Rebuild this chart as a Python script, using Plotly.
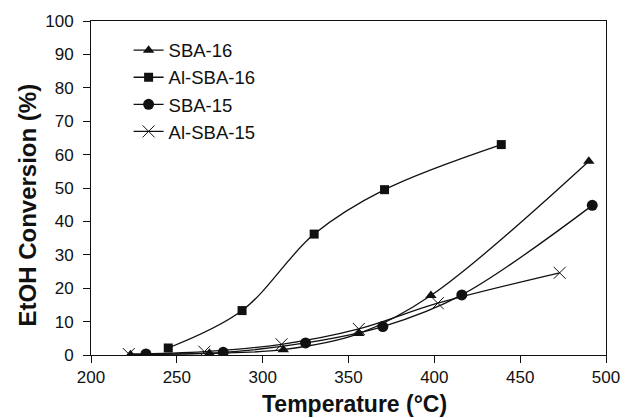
import plotly.graph_objects as go

# Data
temps_sba16 = [223, 269, 312, 356, 398, 490]
conv_sba16 = [0.1, 0.5, 1.6, 6.4, 17.8, 58.0]

temps_alsba16 = [245, 288, 330, 371, 439]
conv_alsba16 = [2.1, 13.3, 36.2, 49.5, 63.0]

temps_sba15 = [232, 277, 325, 370, 416, 492]
conv_sba15 = [0.3, 0.8, 3.6, 8.5, 18.0, 44.8]

temps_alsba15 = [222, 266, 311, 356, 402, 473]
conv_alsba15 = [0.3, 1.0, 3.2, 7.8, 15.5, 24.6]

series_names = ["SBA-16", "Al-SBA-16", "SBA-15", "Al-SBA-15"]

x_ticks = [200, 250, 300, 350, 400, 450, 500]
y_ticks = [0, 10, 20, 30, 40, 50, 60, 70, 80, 90, 100]

x_title = "Temperature (°C)"
y_title = "EtOH Conversion (%)"

FONT = "Liberation Sans, Arial, sans-serif"
INK = "#111111"

fig = go.Figure()

styles = [
    (temps_sba16, conv_sba16, dict(symbol="triangle-up", size=10, color=INK)),
    (temps_alsba16, conv_alsba16, dict(symbol="square", size=9, color=INK)),
    (temps_sba15, conv_sba15, dict(symbol="circle", size=11, color=INK)),
    (temps_alsba15, conv_alsba15, dict(symbol="x-thin-open", size=12, color=INK,
                                       line=dict(color=INK, width=1))),
]

for name, (xs, ys, mk) in zip(series_names, styles):
    fig.add_trace(go.Scatter(
        x=xs, y=ys, name=name, mode="lines+markers",
        line=dict(color=INK, width=1.3, shape="spline", smoothing=1.0),
        marker=mk,
    ))

fig.update_layout(
    width=632, height=418,
    margin=dict(l=91, r=16, t=20, b=63),
    paper_bgcolor="white", plot_bgcolor="white",
    font=dict(family=FONT, color=INK, size=17),
    showlegend=True,
    legend=dict(
        x=0.073, y=0.968, xanchor="left", yanchor="top",
        bgcolor="rgba(0,0,0,0)", borderwidth=0,
        font=dict(family=FONT, size=18.5, color=INK),
        itemwidth=30, tracegroupgap=0,
    ),
    annotations=[
        dict(text="<b>" + x_title + "</b>", xref="paper", yref="paper",
             x=0.512, y=-0.148, xanchor="center", yanchor="middle", showarrow=False,
             font=dict(family=FONT, size=23, color=INK)),
        dict(text="<b>" + y_title + "</b>", xref="paper", yref="paper",
             x=-0.124, y=0.448, xanchor="center", yanchor="middle", showarrow=False,
             textangle=-90, font=dict(family=FONT, size=24, color=INK)),
    ],
)

fig.update_xaxes(
    range=[200, 500], tickvals=x_ticks, ticktext=[str(v) for v in x_ticks],
    showgrid=False, zeroline=False,
    showline=True, linecolor=INK, linewidth=1, mirror=True,
    ticks="outside", ticklen=7, tickcolor=INK, tickwidth=1,
    tickfont=dict(family=FONT, size=17, color=INK),
)
fig.update_yaxes(
    range=[0, 100], tickvals=y_ticks, ticktext=[str(v) for v in y_ticks],
    showgrid=False, zeroline=False,
    showline=True, linecolor=INK, linewidth=1, mirror=True,
    ticks="outside", ticklen=7, tickcolor=INK, tickwidth=1, ticklabelstandoff=6,
    tickfont=dict(family=FONT, size=17, color=INK),
)

fig.write_html(
    "out.html",
    config={"displayModeBar": False},
    post_script="document.body.style.margin='0';document.body.style.padding='0';",
)
